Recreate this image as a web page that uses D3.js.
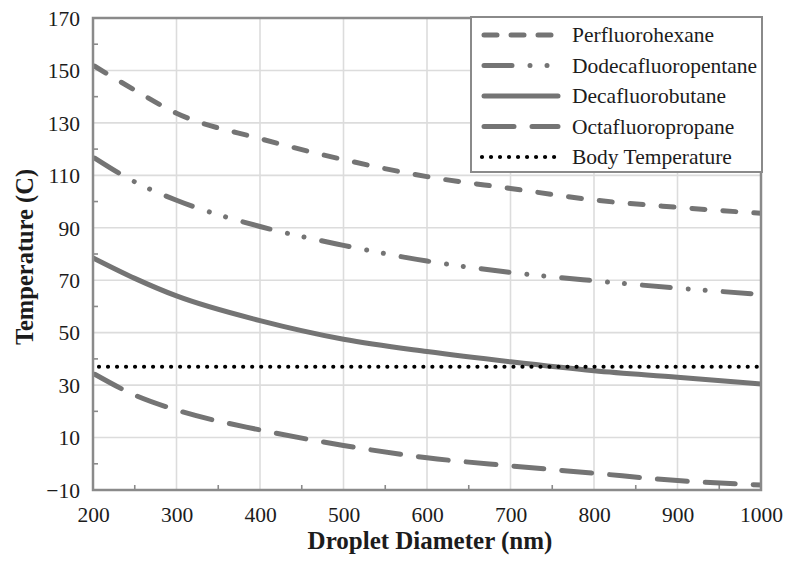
<!DOCTYPE html>
<html>
<head>
<meta charset="utf-8">
<script src="https://cdn.jsdelivr.net/npm/d3@7"></script>
<style>
  html, body { margin: 0; padding: 0; background: #fff; }
  svg { display: block; }
</style>
</head>
<body>
<svg id="chart" width="788" height="564"></svg>
<script>
// ---- data ----
const diameters = [200, 250, 300, 400, 500, 600, 700, 800, 900, 1000];
const perfluorohexane     = [152, 142.5, 133.7, 124, 116, 109.5, 105, 100.6, 97.8, 95.5];
const dodecafluoropentane = [117, 107.5, 100.5, 90.5, 83.3, 77.3, 73, 69.8, 67, 64.6];
const decafluorobutane    = [78.5, 70.7, 64, 54.6, 47.5, 42.8, 38.9, 35.5, 33, 30.4];
const octafluoropropane   = [34.5, 26.2, 20.5, 12.9, 7, 2.3, -0.8, -3.6, -6.4, -8.1];
const bodyTemperature = 37;
const seriesNames = ["Perfluorohexane", "Dodecafluoropentane", "Decafluorobutane", "Octafluoropropane", "Body Temperature"];
const xTicks = [200, 300, 400, 500, 600, 700, 800, 900, 1000];
const yTicks = [-10, 10, 30, 50, 70, 90, 110, 130, 150, 170];
const xTitle = "Droplet Diameter (nm)";
const yTitle = "Temperature (C)";

// ---- layout ----
const svg = d3.select("#chart");
const m = { left: 93, right: 761, top: 18, bottom: 490 };
const x = d3.scaleLinear().domain([200, 1000]).range([m.left, m.right]);
const y = d3.scaleLinear().domain([-10, 170]).range([m.bottom, m.top]);
const font = "Liberation Serif, Times New Roman, serif";
const lineColor = "#747474";
const frameColor = "#8a8a8a";
const gridColor = "#dcdcdc";
const textColor = "#1c1c1c";

// grid
svg.append("g").selectAll("line").data(xTicks.slice(1, -1)).join("line")
  .attr("x1", d => x(d)).attr("x2", d => x(d))
  .attr("y1", m.top).attr("y2", m.bottom)
  .attr("stroke", gridColor).attr("stroke-width", 1.6);
svg.append("g").selectAll("line").data(yTicks.slice(1, -1)).join("line")
  .attr("x1", m.left).attr("x2", m.right)
  .attr("y1", d => y(d)).attr("y2", d => y(d))
  .attr("stroke", gridColor).attr("stroke-width", 1.6);

// minor ticks (inward)
const xMinor = d3.range(250, 1000, 100);
const yMinor = d3.range(0, 170, 20);
svg.append("g").selectAll("line").data(xMinor).join("line")
  .attr("x1", d => x(d)).attr("x2", d => x(d))
  .attr("y1", m.bottom).attr("y2", m.bottom - 5)
  .attr("stroke", frameColor).attr("stroke-width", 1.6);
svg.append("g").selectAll("line").data(yMinor).join("line")
  .attr("x1", m.left).attr("x2", m.left + 5)
  .attr("y1", d => y(d)).attr("y2", d => y(d))
  .attr("stroke", frameColor).attr("stroke-width", 1.6);

// axes (labels) via d3 axis
const xAxis = svg.append("g").attr("transform", `translate(0,${m.bottom})`)
  .call(d3.axisBottom(x).tickValues(xTicks).tickSize(0).tickPadding(17).tickFormat(d3.format("d")));
const yAxis = svg.append("g").attr("transform", `translate(${m.left},0)`)
  .call(d3.axisLeft(y).tickValues(yTicks).tickSize(0).tickPadding(13).tickFormat(d3.format("d")));
[xAxis, yAxis].forEach(g => {
  g.attr("font-family", font).attr("font-size", 21.5);
  g.select(".domain").remove();
  g.selectAll("text").attr("font-family", font).attr("font-size", 21.5).attr("fill", textColor);
});
yAxis.selectAll("text").attr("dy", "0.34em");

// clip
svg.append("clipPath").attr("id", "clip").append("rect")
  .attr("x", m.left).attr("y", m.top).attr("width", m.right - m.left).attr("height", m.bottom - m.top);

const line = d3.line().x(d => x(d[0])).y(d => y(d[1])).curve(d3.curveMonotoneX);
const styles = [
  { dash: "13,18", width: 5, color: lineColor, cap: "round" },
  { dash: "28,18,0.01,17,0.01,18", width: 5, color: lineColor, cap: "round" },
  { dash: null, width: 5, color: lineColor, cap: "round" },
  { dash: "30,18", width: 5, color: lineColor, cap: "round" },
  { dash: "0.01,9", width: 4.2, color: "#000", cap: "round" }
];
const legendDash = ["13,14", "28,18,0.01,17,0.01,18", null, "30,18", "0.01,9"];
const allSeries = [perfluorohexane, dodecafluoropentane, decafluorobutane, octafluoropropane,
  diameters.map(() => bodyTemperature)];

const plot = svg.append("g").attr("clip-path", "url(#clip)");
allSeries.forEach((vals, i) => {
  const s = styles[i];
  const pts = i === 4 ? [[200, vals[0]], [1000, vals[0]]] : diameters.map((d, j) => [d, vals[j]]);
  plot.append("path")
    .attr("d", line(pts))
    .attr("fill", "none")
    .attr("stroke", s.color)
    .attr("stroke-width", s.width)
    .attr("stroke-linecap", s.cap)
    .attr("stroke-dasharray", s.dash)
    .attr("stroke-dashoffset", i === 4 ? -6 : -2);
});

// frame
svg.append("rect")
  .attr("x", m.left).attr("y", m.top).attr("width", m.right - m.left).attr("height", m.bottom - m.top)
  .attr("fill", "none").attr("stroke", frameColor).attr("stroke-width", 2.5);

// legend
const lg = svg.append("g");
lg.append("rect").attr("x", 471).attr("y", 17).attr("width", 291).attr("height", 155)
  .attr("fill", "#fff").attr("stroke", frameColor).attr("stroke-width", 2);
const rowY = d3.scalePoint().domain(seriesNames).range([35, 157]);
seriesNames.forEach((name, i) => {
  const s = styles[i];
  const yy = rowY(name);
  lg.append("line").attr("x1", i === 4 ? 482 : 484).attr("x2", 558).attr("y1", yy).attr("y2", yy)
    .attr("stroke", s.color).attr("stroke-width", s.width)
    .attr("stroke-linecap", s.cap).attr("stroke-dasharray", legendDash[i]);
  lg.append("text").attr("x", 572).attr("y", yy).attr("dy", "0.33em")
    .attr("font-family", font).attr("font-size", 21.5).attr("fill", textColor).text(name);
});

// titles
svg.append("text").attr("x", 430).attr("y", 549).attr("text-anchor", "middle")
  .attr("font-family", font).attr("font-weight", "bold").attr("font-size", 25).attr("fill", textColor)
  .text(xTitle);
svg.append("text").attr("transform", "translate(33,257) rotate(-90)").attr("text-anchor", "middle")
  .attr("font-family", font).attr("font-weight", "bold").attr("font-size", 24.5).attr("fill", textColor)
  .text(yTitle);
</script>
</body>
</html>
